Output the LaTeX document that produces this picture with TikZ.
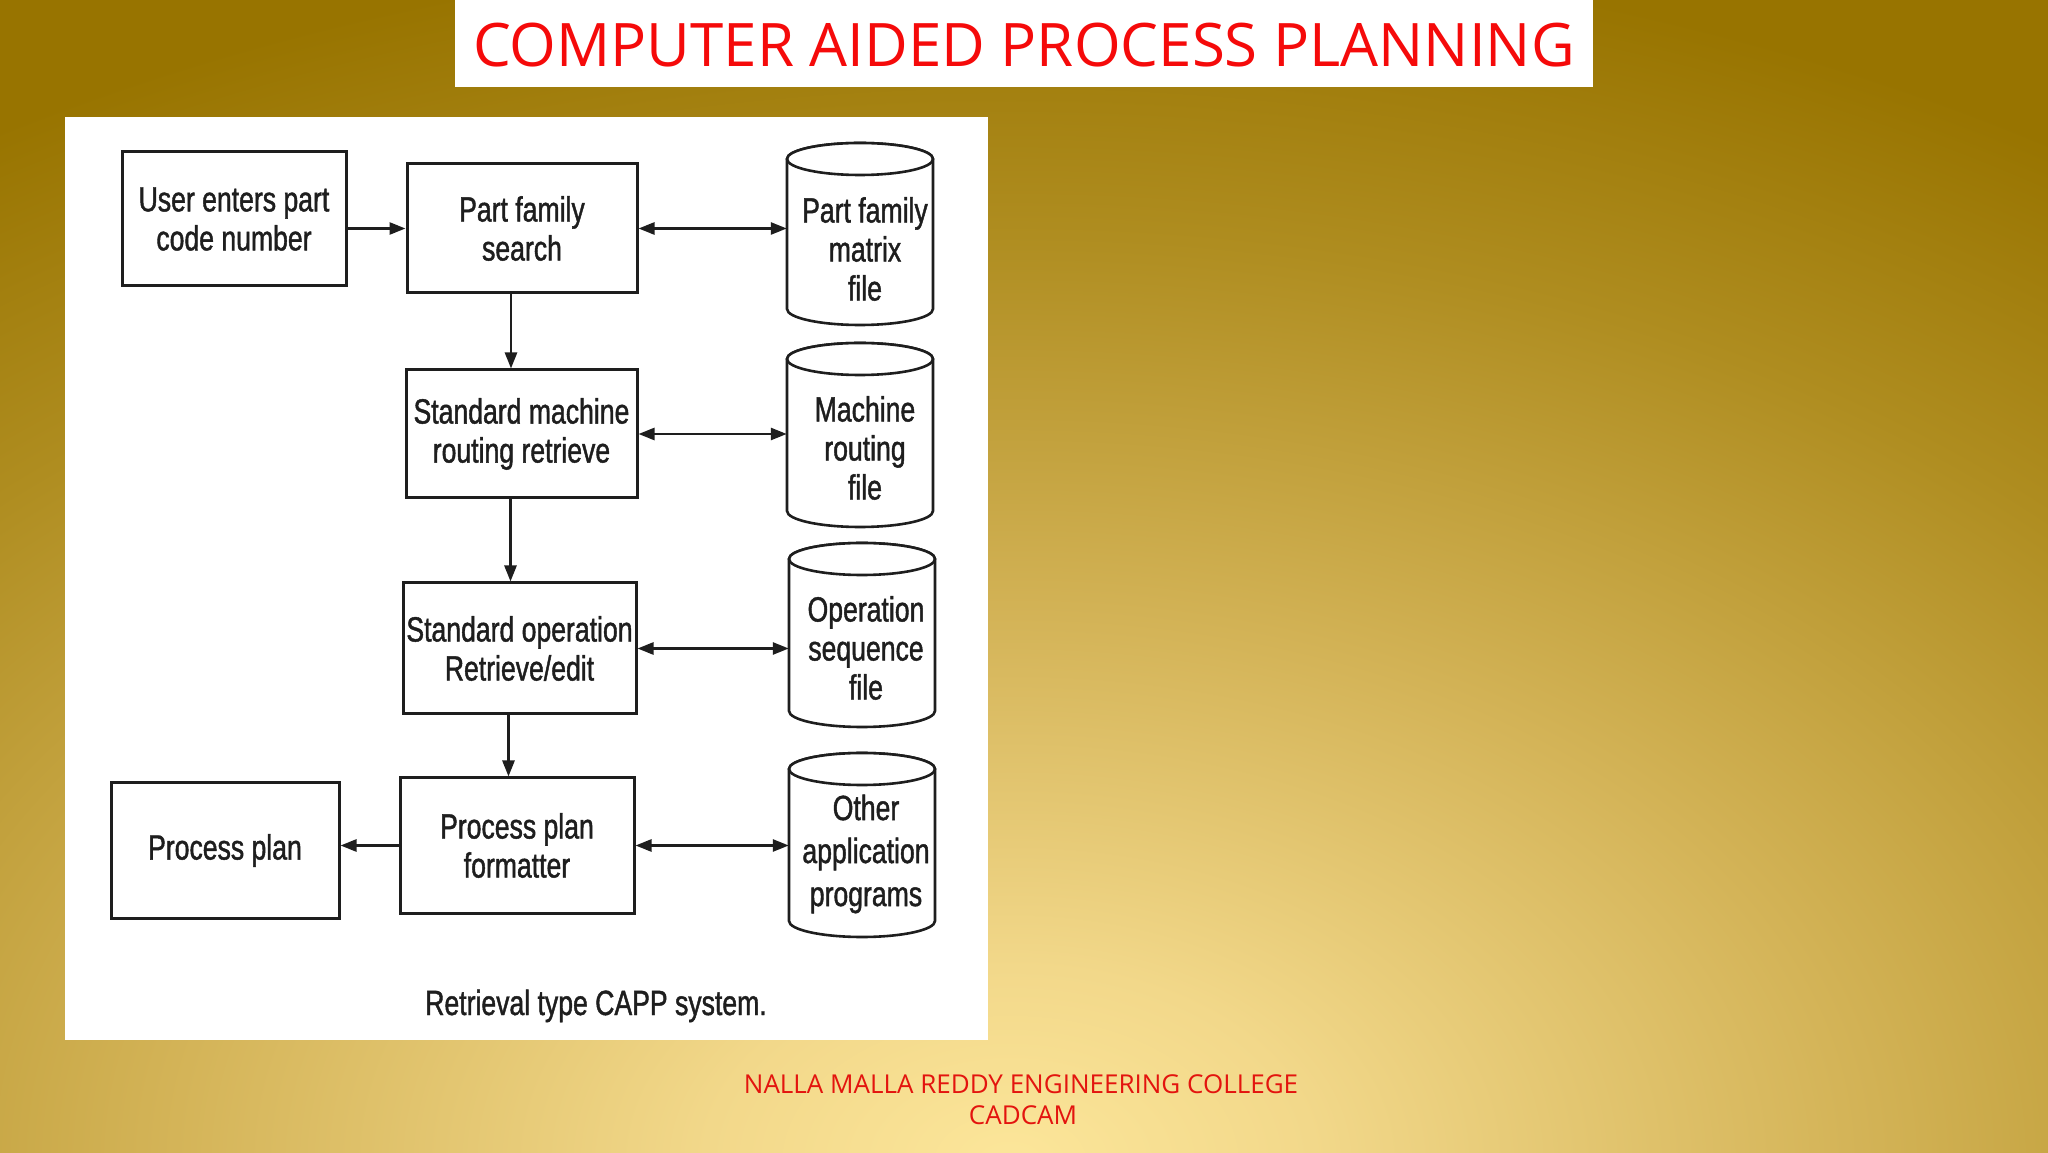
\documentclass[tikz,border=0pt]{standalone}
\usepackage{fontspec}
\usetikzlibrary{arrows.meta}
\newfontfamily\diagfont{Liberation Sans}[FakeStretch=0.76, FakeBold=1.2]
\newfontfamily\slidefont{Open Sans}
\newcommand\diagtext{\diagfont\fontsize{35}{39}\selectfont}
\definecolor{bgA}{HTML}{FCE69A}
\definecolor{bgB}{HTML}{F2D88A}
\definecolor{bgC}{HTML}{D4B458}
\definecolor{bgD}{HTML}{AF8D20}
\definecolor{bgE}{HTML}{987400}
\definecolor{ink}{HTML}{1E1E1E}
\definecolor{titlered}{HTML}{F50A0A}
\definecolor{footred}{HTML}{E3140E}
\pgfdeclareradialshading{slidebg}{\pgfpoint{0bp}{0bp}}{color(0bp)=(bgA); color(4bp)=(bgB); color(11bp)=(bgC); color(19bp)=(bgD); color(25bp)=(bgE); color(50bp)=(bgE)}
\newcommand\dbcyl[4]{%
  \draw[cylline] ({#2-73},{#3-16}) -- ({#2-73},{#4+16})
    arc[start angle=180,end angle=360,x radius=73,y radius=16]
    -- ({#2+73},{#3-16})
    arc[start angle=0,end angle=180,x radius=73,y radius=16] -- cycle;
  \draw[cylline] ({#2},{#3-16}) ellipse[x radius=73, y radius=16];
  \node[inner sep=0pt, minimum width=146pt, minimum height={#3-#4}] (#1) at ({#2},{(#3+#4)/2}) {};
}
\begin{document}
\begin{tikzpicture}[x=1pt,y=1pt,
  boxstyle/.style={draw=ink, line width=3pt, fill=white, inner sep=0pt, font=\diagtext, text=ink, align=center},
  cylline/.style={draw=ink, line width=2.6pt, fill=white},
  cyltext/.style={font=\diagtext, text=ink, align=center, inner sep=0pt},
  arr/.style={draw=ink, line width=2.6pt, -{Triangle[length=16pt,width=12pt]}},
  biarr/.style={draw=ink, line width=2.6pt, {Triangle[length=16pt,width=12pt]}-{Triangle[length=16pt,width=12pt]}},
  foot/.style={font=\slidefont\fontsize{26}{30}\selectfont, text=footred, anchor=base, inner sep=0pt}]
\path[use as bounding box] (0,0) rectangle (2048,1152);
\begin{scope}
  \clip (0,0) rectangle (2048,1152);
  \fill[bgE] (0,0) rectangle (2048,1152);
  \shade[shading=slidebg] (1010,-10) ellipse[x radius=1900, y radius=1220];
\end{scope}
% title
\fill[white] (455,1065) rectangle (1593,1152);
\node[font=\slidefont\fontsize{60}{72}\selectfont, text=titlered, anchor=base, inner sep=0pt] (title) at (1024,1085) {COMPUTER AIDED PROCESS PLANNING};
% panel
\fill[white] (65,112) rectangle (988,1035);
% boxes
\node[boxstyle, minimum width=224pt, minimum height=134pt] (user) at (234,933) {User enters part\\code number};
\node[boxstyle, minimum width=230pt, minimum height=129pt] (pfs) at (522,923.5) {Part family\\search};
\node[boxstyle, minimum width=231pt, minimum height=128pt] (smrr) at (521.5,718) {Standard machine\\routing retrieve};
\node[boxstyle, minimum width=233pt, minimum height=131pt] (sore) at (519.5,503.5) {Standard operation\\Retrieve/edit};
\node[boxstyle, minimum width=234pt, minimum height=135pt] (ppf) at (517,306.5) {Process plan\\formatter};
\node[boxstyle, minimum width=228pt, minimum height=135pt] (pp) at (225,301.5) {Process plan};
% cylinders
\dbcyl{c1}{860}{1009}{827}
\dbcyl{c2}{860}{809}{625}
\dbcyl{c3}{862}{609}{425}
\dbcyl{c4}{862}{399}{215}
\node[cyltext] (c1t) at (865,903) {Part family\\matrix\\file};
\node[cyltext] (c2t) at (865,704) {Machine\\routing\\file};
\node[cyltext] (c3t) at (866,504) {Operation\\sequence\\file};
\node[cyltext, font=\diagfont\fontsize{35}{43}\selectfont] (c4t) at (866,298) {Other\\application\\programs};
% connectors
\draw[arr] (user.east |- pfs.west) -- (pfs.west);
\draw[biarr] (pfs.east) -- (pfs.east -| c1.west);
\draw[biarr] (smrr.east) -- (smrr.east -| c2.west);
\draw[biarr] (sore.east) -- (sore.east -| c3.west);
\draw[biarr] (ppf.east) -- (ppf.east -| c4.west);
\draw[arr] (ppf.west) -- (pp.east |- ppf.west);
\draw[arr] ([xshift=-11pt]pfs.south) -- ([xshift=-11pt]pfs.south |- smrr.north);
\draw[arr] ([xshift=-11pt]smrr.south) -- ([xshift=-11pt]smrr.south |- sore.north);
\draw[arr] ([xshift=-11pt]sore.south) -- ([xshift=-11pt]sore.south |- ppf.north);
% caption
\node[font=\diagtext, text=ink, anchor=base, inner sep=0pt] (cap) at (596,137) {Retrieval type CAPP system.};
% footer
\node[foot] (f1) at (1021,59) {NALLA MALLA REDDY ENGINEERING COLLEGE};
\node[foot] (f2) at (1023,28) {CADCAM};
\end{tikzpicture}
\end{document}
